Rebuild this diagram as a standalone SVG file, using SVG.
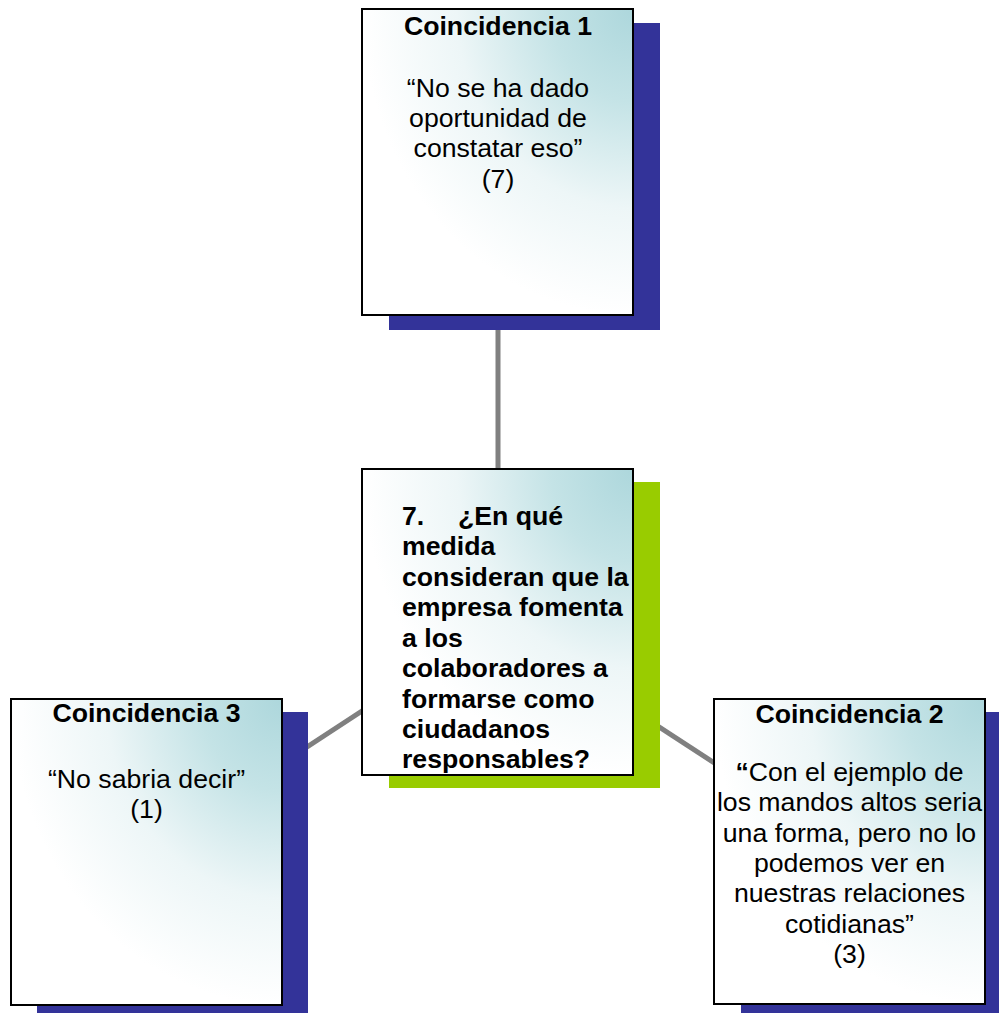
<svg xmlns="http://www.w3.org/2000/svg" width="999" height="1013" viewBox="0 0 999 1013">
<defs>
<radialGradient id="boxfill" cx="1" cy="0" r="1" fx="1" fy="0" gradientUnits="objectBoundingBox">
<stop offset="0" stop-color="#ADD7DC"/>
<stop offset="0.3" stop-color="#C4E3E6"/>
<stop offset="0.65" stop-color="#EDF6F7"/>
<stop offset="1" stop-color="#FFFFFF"/>
</radialGradient>
<style>
.box{fill:url(#boxfill);stroke:#000;stroke-width:2}
.shb{fill:#333399}
.shg{fill:#99CC00}
.t{font-family:"Liberation Sans",Arial,sans-serif;font-size:26.67px;fill:#000}
.b{font-weight:bold}
.c{text-anchor:middle}
.conn{stroke:#808080;stroke-width:5;fill:none}
</style>
</defs>
<rect width="999" height="1013" fill="#fff"/>
<g id="connectors">
<line class="conn" x1="498" y1="162" x2="498" y2="622"/>
<line class="conn" x1="498" y1="622" x2="146.5" y2="852"/>
<line class="conn" x1="498" y1="622" x2="849.5" y2="851"/>
</g>
<g id="coincidencia1">
<rect class="shb" x="389" y="23" width="271" height="307"/>
<rect class="box" x="362" y="9" width="271" height="306"/>
<text class="t b c" x="498" y="35">Coincidencia 1</text>
<text class="t c" x="498" y="97">“No se ha dado</text>
<text class="t c" x="498" y="127">oportunidad de</text>
<text class="t c" x="498" y="157">constatar eso”</text>
<text class="t c" x="498" y="188">(7)</text>
</g>
<g id="pregunta">
<rect class="shg" x="389" y="482" width="271" height="306"/>
<rect class="box" x="362" y="469" width="271" height="306"/>
<text class="t b" y="525"><tspan x="402">7.</tspan><tspan x="458">¿En qué</tspan></text>
<text class="t b" x="402" y="555">medida</text>
<text class="t b" x="402" y="586">consideran que la</text>
<text class="t b" x="402" y="616">empresa fomenta</text>
<text class="t b" x="402" y="647">a los</text>
<text class="t b" x="402" y="677">colaboradores a</text>
<text class="t b" x="402" y="708">formarse como</text>
<text class="t b" x="402" y="738">ciudadanos</text>
<text class="t b" x="402" y="768">responsables?</text>
</g>
<g id="coincidencia3">
<rect class="shb" x="37" y="712" width="271" height="307"/>
<rect class="box" x="11" y="699" width="271" height="306"/>
<text class="t b c" x="146.5" y="722">Coincidencia 3</text>
<text class="t c" x="146.5" y="788">“No sabria decir”</text>
<text class="t c" x="146.5" y="818">(1)</text>
</g>
<g id="coincidencia2">
<rect class="shb" x="741" y="712" width="271" height="307"/>
<rect class="box" x="714" y="699" width="271" height="305"/>
<text class="t b c" x="849.5" y="723">Coincidencia 2</text>
<text class="t c" x="849.5" y="781"><tspan class="b">“</tspan>Con el ejemplo de</text>
<text class="t c" x="849.5" y="811">los mandos altos seria</text>
<text class="t c" x="849.5" y="842">una forma, pero no lo</text>
<text class="t c" x="849.5" y="872">podemos ver en</text>
<text class="t c" x="849.5" y="902">nuestras relaciones</text>
<text class="t c" x="849.5" y="933">cotidianas”</text>
<text class="t c" x="849.5" y="963">(3)</text>
</g>
</svg>
